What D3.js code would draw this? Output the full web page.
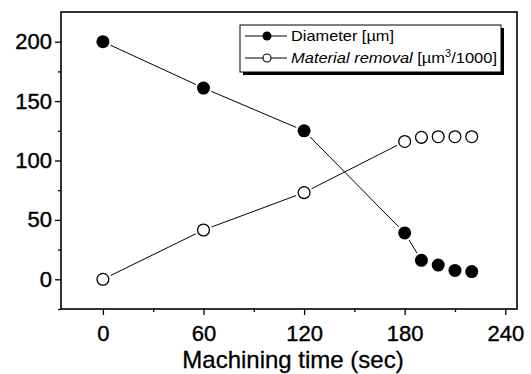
<!DOCTYPE html>
<html>
<head>
<meta charset="utf-8">
<script src="https://cdn.jsdelivr.net/npm/d3@7"></script>
<style>
  body { margin: 0; background: #fff; }
  svg { font-family: "Liberation Sans", Arial, sans-serif; }
</style>
</head>
<body>
<svg id="chart"></svg>
<script>
// data
const times = [0, 60, 120, 180, 190, 200, 210, 220];
const diameter = [200, 161, 125, 39, 16, 12, 7.5, 6.5];
const removal = [0, 41.5, 73, 116, 119.5, 120, 120, 120];
const xTicks = [0, 60, 120, 180, 240];
const yTicks = [0, 50, 100, 150, 200];

const W = 531, H = 374;
const margin = { top: 12, right: 14, bottom: 65, left: 61 };
const width = W - margin.left - margin.right,
      height = H - margin.top - margin.bottom;

const svg = d3.select("#chart").attr("width", W).attr("height", H);
const g = svg.append("g").attr("transform", `translate(${margin.left},${margin.top})`);

const x = d3.scaleLinear().domain([-25, 247]).range([0, width]);
const y = d3.scaleLinear().domain([-25, 225]).range([height, 0]);

// axes with outward ticks
const xAxis = g.append("g")
  .attr("transform", `translate(0,${height})`)
  .call(d3.axisBottom(x).tickValues(xTicks).tickSize(6).tickPadding(10));
g.append("g")
  .attr("transform", `translate(0,${height})`)
  .call(d3.axisBottom(x).tickValues([30, 90, 150, 210]).tickSize(3).tickFormat(""));

const yAxis = g.append("g")
  .call(d3.axisLeft(y).tickValues(yTicks).tickSize(6).tickPadding(3));
g.append("g")
  .call(d3.axisLeft(y).tickValues([-25, 25, 75, 125, 175]).tickSize(3).tickFormat(""));

g.selectAll(".domain").remove();
g.selectAll(".tick line").attr("stroke", "#000").attr("stroke-width", 1.3);
[xAxis, yAxis].forEach(a => a.selectAll("text")
  .style("font-size", "22px")
  .attr("fill", "#000")
  .attr("stroke", "#000")
  .attr("stroke-width", 0.4));

// frame
g.append("rect")
  .attr("width", width).attr("height", height)
  .attr("fill", "none").attr("stroke", "#000").attr("stroke-width", 1.6);

// axis title
svg.append("text")
  .attr("x", 293)
  .attr("y", 368)
  .attr("text-anchor", "middle")
  .style("font-size", "24px")
  .attr("stroke", "#000")
  .attr("stroke-width", 0.3)
  .text("Machining time (sec)");

const R = 6.5;
const gap = 2;

// connecting segments with a small gap around each symbol
const drawSeries = (vals, filled) => {
  const pts = times.map((t, i) => [x(t), y(vals[i])]);
  for (let i = 0; i < pts.length - 1; i++) {
    const [x1, y1] = pts[i], [x2, y2] = pts[i + 1];
    const d = Math.hypot(x2 - x1, y2 - y1);
    const cut = R + gap;
    if (d <= 2 * cut + 1) continue;
    const ux = (x2 - x1) / d, uy = (y2 - y1) / d;
    g.append("line")
      .attr("x1", x1 + ux * cut).attr("y1", y1 + uy * cut)
      .attr("x2", x2 - ux * cut).attr("y2", y2 - uy * cut)
      .attr("stroke", "#000").attr("stroke-width", 1);
  }
  g.selectAll(null)
    .data(pts)
    .enter()
    .append("circle")
    .attr("cx", d => d[0])
    .attr("cy", d => d[1])
    .attr("r", filled ? R : R - 0.6)
    .attr("fill", filled ? "#000" : "#fff")
    .attr("stroke", "#000")
    .attr("stroke-width", filled ? 0 : 1.3);
};

drawSeries(diameter, true);
drawSeries(removal, false);

// legend
const lg = svg.append("g");
const lx = 240, ly = 25, lw = 261, lh = 47;
lg.append("rect").attr("x", lx + 3).attr("y", ly + 3).attr("width", lw).attr("height", lh).attr("fill", "#000");
lg.append("rect").attr("x", lx).attr("y", ly).attr("width", lw).attr("height", lh)
  .attr("fill", "#fff").attr("stroke", "#000").attr("stroke-width", 1);

const legendItems = [
  { y: 36, filled: true },
  { y: 58, filled: false }
];
legendItems.forEach(it => {
  lg.append("line").attr("x1", 245).attr("x2", 287).attr("y1", it.y).attr("y2", it.y)
    .attr("stroke", "#000").attr("stroke-width", 1);
  lg.append("circle").attr("cx", 267).attr("cy", it.y).attr("r", it.filled ? 4.5 : 4)
    .attr("fill", it.filled ? "#000" : "#fff").attr("stroke", "#000").attr("stroke-width", it.filled ? 0 : 1.1);
});

lg.append("text").attr("x", 291).attr("y", 41).style("font-size", "15px")
  .attr("textLength", 103).attr("lengthAdjust", "spacingAndGlyphs")
  .text("Diameter [\u00b5m]");
const t2 = lg.append("text").attr("x", 291).attr("y", 63).style("font-size", "15px")
  .attr("textLength", 206).attr("lengthAdjust", "spacingAndGlyphs");
t2.append("tspan").style("font-style", "italic").text("Material removal ");
t2.append("tspan").text("[\u00b5m");
t2.append("tspan").attr("dy", -6).style("font-size", "10px").text("3");
t2.append("tspan").attr("dy", 6).text("/1000]");
</script>
</body>
</html>
